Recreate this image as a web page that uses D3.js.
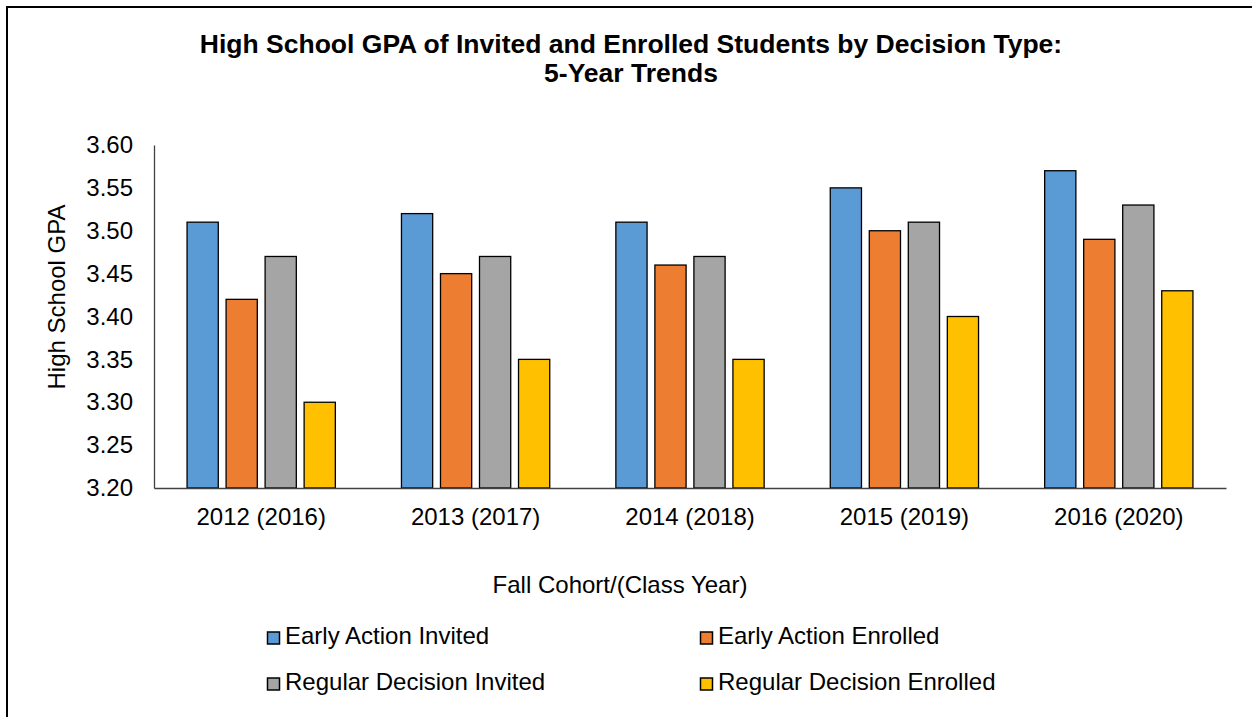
<!DOCTYPE html>
<html>
<head>
<meta charset="utf-8">
<script src="https://cdn.jsdelivr.net/npm/d3@7"></script>
<style>
  body { margin: 0; background: #fff; }
  text { font-family: "Liberation Sans", Arial, sans-serif; fill: #000; }
</style>
</head>
<body>
<svg id="chart" width="1252" height="717"></svg>
<script>
// chart data
const categories = ["2012 (2016)", "2013 (2017)", "2014 (2018)", "2015 (2019)", "2016 (2020)"];
const seriesNames = ["Early Action Invited", "Early Action Enrolled", "Regular Decision Invited", "Regular Decision Enrolled"];
const earlyActionInvited = [3.51, 3.52, 3.51, 3.55, 3.57];
const earlyActionEnrolled = [3.42, 3.45, 3.46, 3.50, 3.49];
const regularDecisionInvited = [3.47, 3.47, 3.47, 3.51, 3.53];
const regularDecisionEnrolled = [3.30, 3.35, 3.35, 3.40, 3.43];
const yTicks = [3.20, 3.25, 3.30, 3.35, 3.40, 3.45, 3.50, 3.55, 3.60];

const seriesValues = [earlyActionInvited, earlyActionEnrolled, regularDecisionInvited, regularDecisionEnrolled];
const colors = ["#5B9BD5", "#ED7D31", "#A5A5A5", "#FFC000"];

const svg = d3.select("#chart");
const margin = { top: 145, right: 26, bottom: 229, left: 154 };
const width = 1252 - margin.left - margin.right;
const height = 717 - margin.top - margin.bottom;
const fontSize = 24;

// outer frame (runs off the right and bottom edge like the source)
svg.append("rect")
  .attr("x", 7).attr("y", 7)
  .attr("width", 1260).attr("height", 730)
  .attr("fill", "none").attr("stroke", "#000").attr("stroke-width", 2);

const g = svg.append("g").attr("transform", `translate(${margin.left},${margin.top})`);

const x0 = d3.scaleBand().domain(categories).range([0, width])
  .paddingInner(0.272).paddingOuter(0.136);
const x1 = d3.scaleBand().domain(d3.range(seriesNames.length)).range([0, x0.bandwidth()])
  .paddingInner(0.2).paddingOuter(0.1);
const y = d3.scaleLinear().domain([3.2, 3.6]).range([height, 0]);

// bars
const groups = g.selectAll(".cat")
  .data(categories)
  .enter().append("g")
  .attr("class", "cat")
  .attr("transform", (d) => `translate(${x0(d)},0)`);

groups.selectAll("rect")
  .data((d, ci) => seriesValues.map((vals, si) => ({ si, v: vals[ci] })))
  .enter().append("rect")
  .attr("x", (d) => x1(d.si))
  .attr("y", (d) => y(d.v))
  .attr("width", x1.bandwidth())
  .attr("height", (d) => height - y(d.v))
  .attr("fill", (d) => colors[d.si])
  .attr("stroke", "#000")
  .attr("stroke-width", 1.3);

// axes
const yAxis = g.append("g")
  .call(d3.axisLeft(y).tickValues(yTicks).tickFormat(d3.format(".2f")).tickSize(0).tickPadding(21));
yAxis.select(".domain").attr("stroke", "#404040").attr("stroke-width", 1.3);
yAxis.selectAll("text").attr("font-size", fontSize);

const xAxis = g.append("g")
  .attr("transform", `translate(0,${height})`)
  .call(d3.axisBottom(x0).tickSize(0).tickPadding(20));
xAxis.select(".domain").attr("stroke", "#404040").attr("stroke-width", 1.3);
xAxis.selectAll("text").attr("font-size", fontSize);

// titles
const title = svg.append("text")
  .attr("x", 631).attr("y", 53)
  .attr("text-anchor", "middle")
  .attr("font-size", 26.5)
  .attr("font-weight", "bold");
title.append("tspan").attr("x", 631).text("High School GPA of Invited and Enrolled Students by Decision Type:");
title.append("tspan").attr("x", 631).attr("dy", 29).text("5-Year Trends");

svg.append("text")
  .attr("transform", "translate(65,297) rotate(-90)")
  .attr("text-anchor", "middle")
  .attr("font-size", fontSize)
  .text("High School GPA");

svg.append("text")
  .attr("x", 620).attr("y", 593)
  .attr("text-anchor", "middle")
  .attr("font-size", fontSize)
  .text("Fall Cohort/(Class Year)");

// legend, two columns
const legendX = [267, 700];
const legendY = [644, 690];
const legend = svg.selectAll(".legend")
  .data(seriesNames)
  .enter().append("g")
  .attr("class", "legend")
  .attr("transform", (d, i) => `translate(${legendX[i % 2]},${legendY[Math.floor(i / 2)]})`);

legend.append("rect")
  .attr("x", 0.5).attr("y", -12)
  .attr("width", 12).attr("height", 12)
  .attr("fill", (d, i) => colors[i])
  .attr("stroke", "#000").attr("stroke-width", 1.5);

legend.append("text")
  .attr("x", 18).attr("y", 0)
  .attr("font-size", fontSize)
  .text((d) => d);
</script>
</body>
</html>
